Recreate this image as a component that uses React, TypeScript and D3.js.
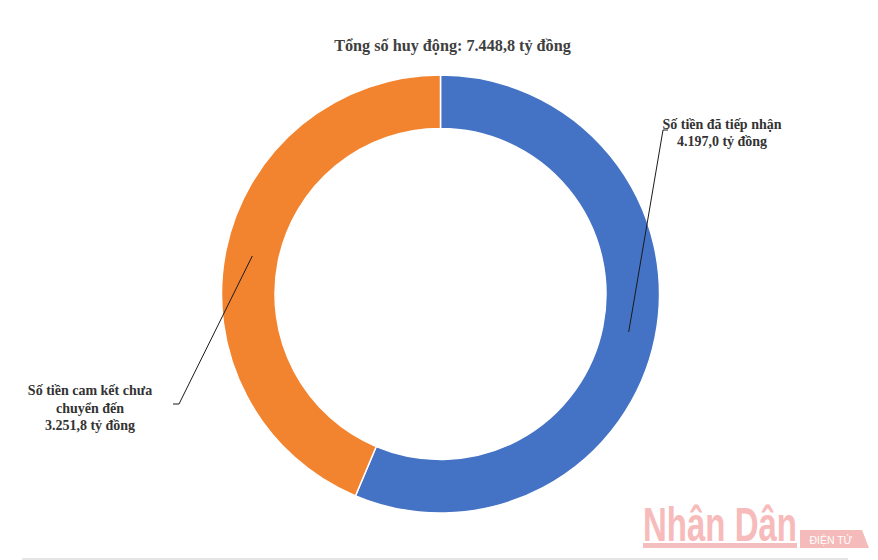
import React, { useEffect, useRef, useState } from "react";
import * as d3 from "d3";

const categories = ["Số tiền đã tiếp nhận", "Số tiền cam kết chưa chuyển đến"];
const values = [4197.0, 3251.8];
const labelLines = [
  ["Số tiền đã tiếp nhận", "4.197,0 tỷ đồng"],
  ["Số tiền cam kết chưa", "chuyển đến", "3.251,8 tỷ đồng"],
];
const colors = ["#4472C4", "#F3842F"];
const title = "Tổng số huy động: 7.448,8 tỷ đồng";

const W = 878;
const H = 560;
const cx = 440.5;
const cy = 294;
const rOuter = 219;
const rInner = 165.5;

export default function App() {
  const pie = d3.pie<number>().sort(null).value((d) => d);
  const arcs = pie(values);
  const arcGen = d3.arc<d3.PieArcDatum<number>>().innerRadius(rInner).outerRadius(rOuter);

  const labelCfg = [
    { elbow: [663, 130], end: [668, 130], tx: 722, ty: 129, dy: 17 },
    { elbow: [179, 404], end: [173, 404], tx: 90, ty: 395, dy: 17.5 },
  ];

  const font = "'Liberation Serif', 'Times New Roman', serif";

  const wmRef = useRef<SVGTextElement>(null);
  const [sx, setSx] = useState(1);
  useEffect(() => {
    if (wmRef.current) {
      const w = wmRef.current.getComputedTextLength();
      if (w > 0) setSx(154 / w);
    }
  }, []);

  return (
    <svg width={W} height={H} style={{ position: "absolute", left: 0, top: 0, background: "#fff" }}>
      <rect x={0} y={0} width={W} height={H} fill="#fff" />
      <text x={452.5} y={51} textAnchor="middle" fontFamily={font} fontWeight="bold" fontSize={16.2} fill="#404040">
        {title}
      </text>
      <g transform={`translate(${cx},${cy})`}>
        {arcs.map((a, i) => (
          <path key={categories[i]} d={arcGen(a) || ""} fill={colors[i]} stroke="#fff" strokeWidth={1.5} />
        ))}
      </g>
      {arcs.map((a, i) => {
        const cfg = labelCfg[i];
        const ang = (a.startAngle + a.endAngle) / 2;
        const px = cx + Math.sin(ang) * 192;
        const py = cy - Math.cos(ang) * 192;
        const lines = labelLines[i];
        return (
          <g key={"lab" + i}>
            <polyline
              points={`${px},${py} ${cfg.elbow[0]},${cfg.elbow[1]} ${cfg.end[0]},${cfg.end[1]}`}
              fill="none"
              stroke="#1a1a1a"
              strokeWidth={1}
            />
            {lines.map((l, j) => (
              <text
                key={j}
                x={cfg.tx}
                y={cfg.ty + j * cfg.dy}
                textAnchor="middle"
                fontFamily={font}
                fontWeight="bold"
                fontSize={14}
                fill="#333"
              >
                {l}
              </text>
            ))}
          </g>
        );
      })}
      {/* watermark */}
      <g opacity={0.9}>
        <rect x={643} y={543} width={154} height={5} fill="#f5b8b8" />
        <text
          ref={wmRef}
          transform={`translate(643,541) scale(${sx},1)`}
          fontFamily="'Liberation Sans Narrow', 'Liberation Sans', sans-serif"
          fontWeight="bold"
          fontSize={48}
          fill="#f7b4b4"
        >
          Nhân Dân
        </text>
        <path d="M800,530 L862,530 L869,548 L800,548 Z" fill="#f5b3b3" />
        <text x={831} y={543.5} textAnchor="middle" fontFamily="'Liberation Sans', sans-serif" fontSize={10.5} fill="#fff">
          ĐIỆN TỬ
        </text>
      </g>
      <line x1={22} x2={848} y1={559} y2={559} stroke="#dcdcdc" strokeWidth={1.5} />
    </svg>
  );
}
